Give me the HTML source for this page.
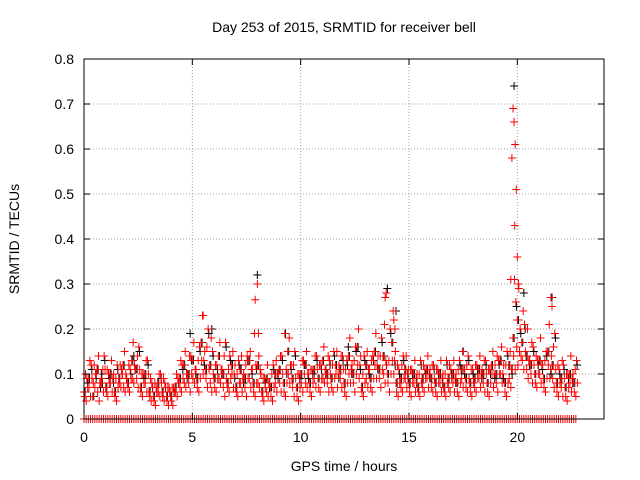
<!DOCTYPE html>
<html><head><meta charset="utf-8"><style>
body{margin:0;background:#fff}
svg{display:block;font-family:"Liberation Sans",sans-serif}
</style></head><body>
<svg id="chart" width="640" height="480" xmlns="http://www.w3.org/2000/svg">
<rect width="640" height="480" fill="#fff"/>
<g id="grid"></g>
<g id="marks"></g>
<rect x="84" y="59" width="520" height="360" fill="none" stroke="#000" stroke-width="1"/>
<g id="axes"></g>
<text x="344" y="32" text-anchor="middle" font-size="14">Day 253 of 2015, SRMTID for receiver bell</text>
<text x="344" y="471" text-anchor="middle" font-size="14">GPS time / hours</text>
<text transform="translate(19,239) rotate(-90)" text-anchor="middle" font-size="14">SRMTID / TECUs</text>
</svg>
<script>
const xTicks=[0,5,10,15,20];
const yTicks=[0,0.1,0.2,0.3,0.4,0.5,0.6,0.7,0.8];
const hours=[0,0.2,0.4,0.6,0.8,1,1.2,1.4,1.6,1.8,2,2.2,2.4,2.6,2.8,3,3.2,3.4,3.6,3.8,4,4.2,4.4,4.6,4.8,5,5.2,5.4,5.6,5.8,6,6.2,6.4,6.6,6.8,7,7.2,7.4,7.6,7.8,8,8.2,8.4,8.6,8.8,9,9.2,9.4,9.6,9.8,10,10.2,10.4,10.6,10.8,11,11.2,11.4,11.6,11.8,12,12.2,12.4,12.6,12.8,13,13.2,13.4,13.6,13.8,14,14.2,14.4,14.6,14.8,15,15.2,15.4,15.6,15.8,16,16.2,16.4,16.6,16.8,17,17.2,17.4,17.6,17.8,18,18.2,18.4,18.6,18.8,19,19.2,19.4,19.6,19.8,20,20.2,20.4,20.6,20.8,21,21.2,21.4,21.6,21.8,22,22.2,22.4,22.6];
const red1=[0.06,0.09,0.05,0.11,0.08,0.07,0.10,0.06,0.09,0.12,0.08,0.13,0.11,0.07,0.10,0.06,0.05,0.08,0.06,0.05,0.05,0.07,0.09,0.12,0.10,0.13,0.09,0.17,0.11,0.12,0.09,0.14,0.10,0.08,0.12,0.07,0.11,0.09,0.13,0.08,0.12,0.06,0.09,0.07,0.10,0.11,0.08,0.15,0.09,0.07,0.10,0.12,0.08,0.11,0.09,0.13,0.10,0.09,0.12,0.11,0.08,0.14,0.10,0.16,0.07,0.12,0.09,0.15,0.11,0.14,0.10,0.17,0.08,0.09,0.11,0.08,0.10,0.07,0.09,0.11,0.09,0.08,0.10,0.07,0.09,0.10,0.08,0.11,0.09,0.08,0.09,0.11,0.10,0.08,0.12,0.10,0.13,0.08,0.12,0.18,0.22,0.17,0.14,0.12,0.10,0.13,0.09,0.15,0.12,0.08,0.09,0.07,0.10,0.08];
const red2=[0.04,0.05,0.07,0.04,0.06,0.05,0.06,0.04,0.07,0.06,0.06,0.08,0.07,0.05,0.06,0.04,0.03,0.05,0.04,0.03,0.03,0.05,0.06,0.07,0.06,0.08,0.06,0.10,0.07,0.06,0.06,0.08,0.05,0.06,0.07,0.05,0.06,0.05,0.07,0.05,0.07,0.04,0.05,0.04,0.06,0.06,0.05,0.08,0.05,0.04,0.06,0.07,0.05,0.07,0.06,0.08,0.06,0.06,0.07,0.07,0.05,0.08,0.06,0.09,0.05,0.07,0.06,0.09,0.07,0.08,0.06,0.10,0.05,0.06,0.07,0.05,0.06,0.05,0.06,0.07,0.06,0.05,0.06,0.05,0.06,0.06,0.05,0.07,0.06,0.05,0.06,0.07,0.06,0.05,0.07,0.06,0.08,0.05,0.07,0.11,0.15,0.11,0.09,0.08,0.07,0.08,0.06,0.09,0.07,0.05,0.05,0.04,0.06,0.05];
const red3=[0.10,0.13,0.12,0.14,0.11,0.11,0.13,0.09,0.12,0.15,0.12,0.17,0.14,0.10,0.13,0.09,0.08,0.10,0.09,0.07,0.07,0.10,0.13,0.15,0.14,0.17,0.13,0.23,0.16,0.18,0.12,0.17,0.14,0.11,0.15,0.10,0.14,0.12,0.15,0.19,0.14,0.09,0.12,0.10,0.13,0.14,0.19,0.18,0.12,0.10,0.13,0.15,0.11,0.14,0.12,0.16,0.14,0.12,0.15,0.14,0.11,0.18,0.13,0.20,0.10,0.15,0.13,0.19,0.14,0.21,0.13,0.24,0.12,0.12,0.14,0.11,0.13,0.10,0.12,0.14,0.12,0.11,0.13,0.10,0.12,0.13,0.11,0.15,0.12,0.11,0.12,0.14,0.13,0.11,0.15,0.14,0.16,0.12,0.15,0.31,0.29,0.24,0.20,0.17,0.14,0.18,0.13,0.21,0.16,0.12,0.13,0.10,0.14,0.11];
const red4=[0.08,0.11,0.09,0.07,0.13,0.09,0.08,0.11,0.10,0.09,0.10,0.11,0.15,0.09,0.12,0.07,0.06,0.09,0.07,0.06,0.06,0.08,0.11,0.09,0.13,0.10,0.15,0.12,0.19,0.14,0.11,0.10,0.16,0.13,0.09,0.12,0.08,0.13,0.10,0.11,0.10,0.08,0.07,0.11,0.09,0.13,0.10,0.11,0.14,0.09,0.12,0.09,0.10,0.13,0.11,0.10,0.12,0.14,0.09,0.13,0.12,0.10,0.15,0.11,0.13,0.10,0.13,0.11,0.17,0.12,0.19,0.12,0.10,0.13,0.09,0.10,0.08,0.12,0.10,0.09,0.11,0.10,0.08,0.12,0.10,0.08,0.12,0.10,0.13,0.10,0.11,0.09,0.12,0.10,0.09,0.12,0.09,0.14,0.10,0.25,0.19,0.20,0.12,0.15,0.12,0.11,0.14,0.10,0.18,0.10,0.11,0.09,0.08,0.12];
const red5=[0.05,0.07,0.08,0.06,0.09,0.06,0.08,0.05,0.08,0.07,0.07,0.09,0.09,0.06,0.08,0.05,0.04,0.06,0.05,0.04,0.04,0.06,0.07,0.08,0.08,0.09,0.07,0.13,0.09,0.08,0.07,0.09,0.07,0.07,0.10,0.06,0.08,0.07,0.09,0.06,0.08,0.05,0.06,0.05,0.08,0.08,0.06,0.10,0.07,0.05,0.08,0.08,0.06,0.09,0.07,0.09,0.08,0.07,0.10,0.09,0.06,0.10,0.08,0.12,0.06,0.09,0.07,0.12,0.09,0.10,0.08,0.13,0.06,0.07,0.09,0.06,0.08,0.06,0.07,0.09,0.07,0.06,0.08,0.06,0.07,0.08,0.06,0.09,0.07,0.06,0.07,0.09,0.08,0.06,0.10,0.08,0.10,0.06,0.09,0.14,0.12,0.13,0.11,0.10,0.08,0.10,0.07,0.12,0.09,0.06,0.07,0.05,0.08,0.06];
const spikeT=[7.9,8.0,8.05,13.9,13.95,14.3,14.35,5.5,19.7,19.75,19.8,19.85,19.88,19.9,19.95,20.0,20.05,21.55,21.6];
const spikeV=[0.265,0.30,0.19,0.27,0.28,0.22,0.20,0.23,0.31,0.58,0.69,0.66,0.43,0.61,0.51,0.36,0.30,0.27,0.25];
const blackT=[19.85,8.0,14.0,4.9,20.3,21.6,14.4,9.3,5.9,12.2,17.5,2.3,0.8];
const blackV=[0.74,0.32,0.29,0.19,0.28,0.27,0.24,0.19,0.20,0.16,0.15,0.14,0.10];

const NS="http://www.w3.org/2000/svg";
const X0=84,X1=604,Y0=419,Y1=59,XMAX=24,YMAX=0.8;
const xs=v=>X0+(X1-X0)*v/XMAX;
const ys=v=>Y0-(Y0-Y1)*v/YMAX;
const grid=document.getElementById('grid'),axes=document.getElementById('axes'),marks=document.getElementById('marks');
function mk(tag,attrs,parent){const e=document.createElementNS(NS,tag);for(const k in attrs)e.setAttribute(k,attrs[k]);parent.appendChild(e);return e;}
xTicks.forEach(t=>{
  const x=xs(t);
  if(t>0){const g=mk('line',{x1:x,x2:x,y1:Y0,y2:Y1,stroke:'#a0a0a0','stroke-dasharray':'1,2'},grid);
  
  }
  mk('line',{x1:x,x2:x,y1:Y0,y2:Y0-6,stroke:'#000'},axes);
  mk('line',{x1:x,x2:x,y1:Y1,y2:Y1+6,stroke:'#000'},axes);
  const l=mk('text',{x:x,y:Y0+23,'text-anchor':'middle','font-size':'14'},axes);
  l.textContent=t;
  
  
});
yTicks.forEach(t=>{
  const y=ys(t);
  if(t>0&&t<0.8){const g=mk('line',{x1:X0,x2:X1,y1:y,y2:y,stroke:'#a0a0a0','stroke-dasharray':'1,2'},grid);
  
  }
  mk('line',{x1:X0,x2:X0+6,y1:y,y2:y,stroke:'#000'},axes);
  mk('line',{x1:X1,x2:X1-6,y1:y,y2:y,stroke:'#000'},axes);
  const l=mk('text',{x:X0-10,y:y+5,'text-anchor':'end','font-size':'14'},axes);
  l.textContent=t===0?'0':t.toFixed(1);
  
  
});
function plus(t,v,color,name){
  const x=xs(t),y=ys(v);
  const p=mk('path',{d:`M${x-4},${y}H${x+4}M${x},${y-4}V${y+4}`,stroke:color,'stroke-width':'1',fill:'none'},marks);
  
  
}
blackT.forEach((t,i)=>plus(t,blackV[i],'#000','black-point'));
hours.forEach((t,i)=>plus(t+0.05,red1[i],'#000','black-point'));
hours.forEach((t,i)=>plus(t+0.16,red4[i],'#000','black-point'));
hours.forEach((t,i)=>{
  plus(t,0,'#ff0000','zero-point');
  plus(t+0.1,0,'#ff0000','zero-point');
  plus(t,red1[i],'#ff0000','red-point');
  plus(t+0.1,red2[i],'#ff0000','red-point');
  plus(t+0.07,red3[i],'#ff0000','red-point');
  plus(t+0.13,red4[i]+0.01,'#ff0000','red-point');
  plus(t+0.03,red5[i],'#ff0000','red-point');
  plus(t+0.17,red5[i]+0.02,'#ff0000','red-point');
});
spikeT.forEach((t,i)=>plus(t,spikeV[i],'#ff0000','spike-point'));
</script>
</body></html>
